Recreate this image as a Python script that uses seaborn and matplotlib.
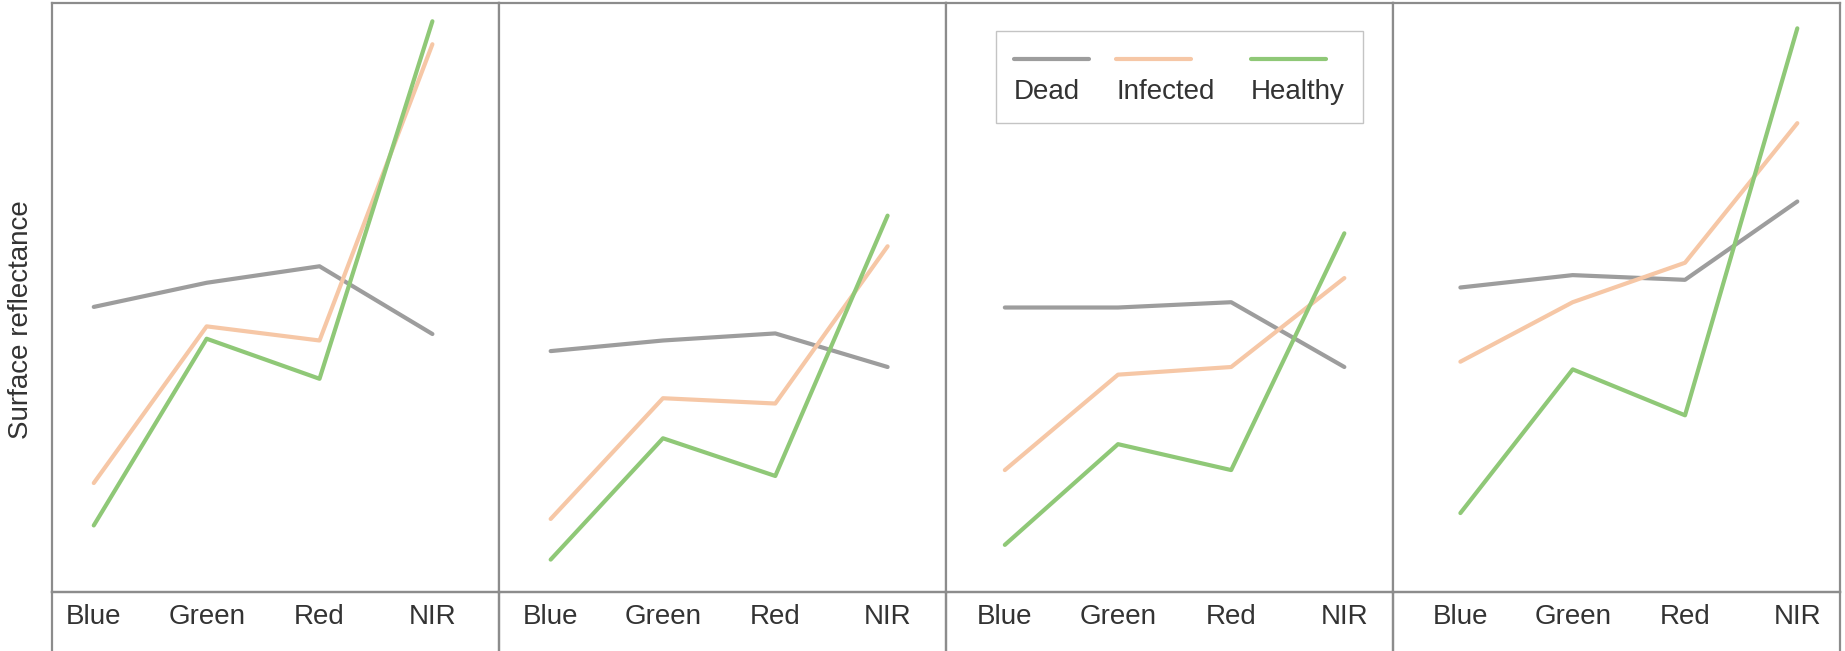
import numpy as np
import pandas as pd
import seaborn as sns
import matplotlib.pyplot as plt
from matplotlib.lines import Line2D

# spectral bands on the x axis
bands = ["Blue", "Green", "Red", "NIR"]
classes = ["Dead", "Infected", "Healthy"]

# surface reflectance (relative units)
dead = [
    [0.484, 0.525, 0.553, 0.438],
    [0.409, 0.427, 0.439, 0.382],
    [0.483, 0.483, 0.492, 0.382],
    [0.517, 0.538, 0.530, 0.663],
]
infected = [
    [0.185, 0.451, 0.427, 0.930],
    [0.124, 0.329, 0.320, 0.587],
    [0.207, 0.369, 0.382, 0.533],
    [0.391, 0.492, 0.559, 0.796],
]
healthy = [
    [0.113, 0.430, 0.362, 0.969],
    [0.055, 0.261, 0.197, 0.639],
    [0.080, 0.251, 0.207, 0.609],
    [0.134, 0.378, 0.300, 0.957],
]

palette = {"Dead": "#9d9d9d", "Infected": "#f6c7a6", "Healthy": "#8fc877"}
frame_color = "#8c8c8c"
text_color = "#333333"

# horizontal padding differs a little from panel to panel
xlims = [(-0.37, 3.59), (-0.46, 3.52), (-0.52, 3.43), (-0.60, 3.38)]

sns.set_theme(style="white")
plt.rcParams["font.family"] = ["Liberation Sans", "DejaVu Sans"]

W, H = 1845, 651
fig = plt.figure(figsize=(W / 100, H / 100), dpi=100)

left_px, panel_w = 52, 447
top_px, axis_px = 3, 592
fs = 20

for i in range(4):
    df = pd.DataFrame({
        "band": np.tile(np.arange(len(bands)), 3),
        "reflectance": dead[i] + infected[i] + healthy[i],
        "status": np.repeat(classes, len(bands)),
    })

    x0 = (left_px + i * panel_w) / W
    ax = fig.add_axes([x0, 1 - axis_px / H, panel_w / W, (axis_px - top_px) / H])
    sns.lineplot(data=df, x="band", y="reflectance", hue="status",
                 hue_order=classes, palette=palette, sort=False,
                 linewidth=3, legend=False, ax=ax)

    ax.set_xlim(*xlims[i])
    ax.set_ylim(0, 1)
    ax.set_xticks(range(len(bands)))
    ax.set_xticklabels(bands)
    ax.set_yticks([])
    ax.set_xlabel("")
    ax.set_ylabel("")
    ax.tick_params(axis="x", length=0, pad=9, labelsize=fs, labelcolor=text_color)
    for sp in ax.spines.values():
        sp.set_color(frame_color)
        sp.set_linewidth(1.6)

    # strip below the axis line that holds the band names
    bx = fig.add_axes([x0, 0, panel_w / W, 1 - axis_px / H])
    bx.set_xticks([])
    bx.set_yticks([])
    bx.patch.set_alpha(0)
    bx.spines["bottom"].set_visible(False)
    for sp in ["left", "right", "top"]:
        bx.spines[sp].set_color(frame_color)
        bx.spines[sp].set_linewidth(1.6)

    if i == 2:
        # legend with the line sample above each name
        blank = Line2D([], [], color="none")
        handles, labels = [], []
        for c in classes:
            handles += [Line2D([], [], color=palette[c], linewidth=3), blank]
            labels += ["", c]
        leg = ax.legend(handles, labels, ncol=3, loc="upper left",
                        bbox_to_anchor=(0.112, 0.953), borderaxespad=0,
                        fontsize=fs, handlelength=2.7, handletextpad=-2.7,
                        columnspacing=1.3, labelspacing=0.15,
                        borderpad=0.65, fancybox=False, framealpha=1)
        leg.get_frame().set_edgecolor("#c4c4c4")
        leg.get_frame().set_linewidth(1.0)
        for t in leg.get_texts():
            t.set_color(text_color)

fig.text(21 / W, 1 - 320 / H, "Surface reflectance", rotation=90,
         ha="center", va="center", fontsize=fs, color=text_color)

fig.savefig("out.png", dpi=100)
